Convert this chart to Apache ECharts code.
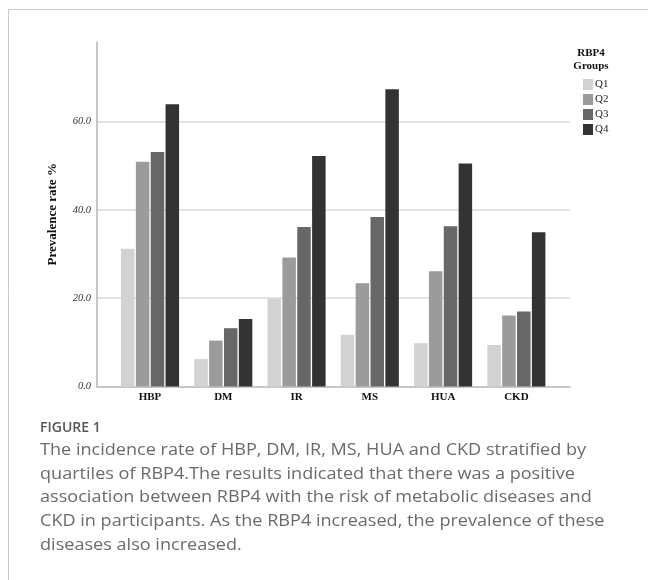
<!DOCTYPE html>
<html>
<head>
<meta charset="utf-8">
<script src="https://cdn.jsdelivr.net/npm/echarts@6/dist/echarts.min.js"></script>
<style>
html,body{margin:0;padding:0;background:#fff;}
#chart{width:648px;height:580px;}
</style>
</head>
<body>
<div id="chart"></div>
<script>
const categories = ['HBP', 'DM', 'IR', 'MS', 'HUA', 'CKD'];
const groupNames = ['Q1', 'Q2', 'Q3', 'Q4'];
const q1 = [31.2, 6.2, 19.9, 11.7, 9.8, 9.4];
const q2 = [50.9, 10.4, 29.2, 23.4, 26.1, 16.1];
const q3 = [53.1, 13.2, 36.1, 38.4, 36.3, 17.0];
const q4 = [63.9, 15.3, 52.2, 67.3, 50.5, 34.9];
const yTicks = [0, 20, 40, 60];
const captionTitle = 'FIGURE 1';
const captionLines = [
  'The incidence rate of HBP, DM, IR, MS, HUA and CKD stratified by',
  'quartiles of RBP4.The results indicated that there was a positive',
  'association between RBP4 with the risk of metabolic diseases and',
  'CKD in participants. As the RBP4 increased, the prevalence of these',
  'diseases also increased.'
];

const colors = ['#d2d2d2', '#9b9b9b', '#676767', '#333333'];
const seriesValues = [q1, q2, q3, q4];
const serif = '"Liberation Serif", "DejaVu Serif", serif';

const chart = echarts.init(document.getElementById('chart'));
const option = {
  animation: false,
  backgroundColor: '#fff',
  grid: [
    { left: 97, right: 78, top: 42, bottom: 193.5 },
    { left: 113.4, right: 95, top: 42, bottom: 193.5 }
  ],
  xAxis: [
    { type: 'value', gridIndex: 0, min: 0, max: 1,
      axisLine: { show: true, lineStyle: { color: '#b4b4b4', width: 1.5 } },
      axisTick: { show: false }, axisLabel: { show: false }, splitLine: { show: false } },
    { type: 'category', gridIndex: 1, data: categories,
      axisLine: { show: false }, axisTick: { show: false },
      axisLabel: { fontFamily: serif, fontWeight: 'bold', fontSize: 11, color: '#111', margin: 5 } }
  ],
  yAxis: [
    { type: 'value', gridIndex: 0, min: 0, max: 78, interval: 20,
      name: 'Prevalence rate %', nameLocation: 'middle', nameGap: 38,
      nameTextStyle: { fontFamily: serif, fontWeight: 'bold', fontSize: 13, color: '#111' },
      axisLine: { show: true, lineStyle: { color: '#b4b4b4', width: 1.5 } },
      axisTick: { show: false },
      axisLabel: { showMaxLabel: false, fontFamily: serif, fontStyle: 'italic', fontSize: 10.5, color: '#333', margin: 6,
        formatter: v => (yTicks.indexOf(v) >= 0 ? v.toFixed(1) : '') },
      splitLine: { show: true, showMinLine: false, showMaxLine: false, lineStyle: { color: '#d9d9d9', width: 1.5 } } },
    { type: 'value', gridIndex: 1, min: 0, max: 78, interval: 20, show: false,
      splitLine: { show: false } }
  ],
  legend: {
    orient: 'vertical', left: 583, top: 79, padding: 0, itemWidth: 10, itemHeight: 11, itemGap: 4,
    icon: 'rect', data: groupNames,
    textStyle: { fontFamily: serif, fontSize: 11, color: '#222', padding: [0, 0, 0, -3] }
  },
  series: groupNames.map((name, i) => ({
    name: name, type: 'bar', xAxisIndex: 1, yAxisIndex: 1,
    data: seriesValues[i], barWidth: 13.5, barGap: '10%',
    itemStyle: { color: colors[i] }
  })),
  graphic: [
    { type: 'polyline', shape: { points: [[8.5, 580], [8.5, 9.5], [648, 9.5]] },
      style: { stroke: '#c8c8c8', lineWidth: 1, fill: null } },
    { type: 'text', x: 591, y: 47,
      style: { text: 'RBP4\nGroups', textAlign: 'center', fontFamily: serif, fontWeight: 'bold', fontSize: 11, lineHeight: 13, fill: '#111' } },
    { type: 'text', x: 40, y: 421.5,
      style: { text: captionTitle, fontFamily: '"Open Sans", sans-serif', fontWeight: 600, fontSize: 14, fill: '#555' } },
    { type: 'text', x: 40, y: 438.5, scaleX: 1.13,
      style: { text: captionLines.join('\n'), fontFamily: '"Open Sans", sans-serif', fontSize: 16, lineHeight: 23.7, fill: '#6a6a6a' } }
  ]
};
chart.setOption(option);
</script>
</body>
</html>
